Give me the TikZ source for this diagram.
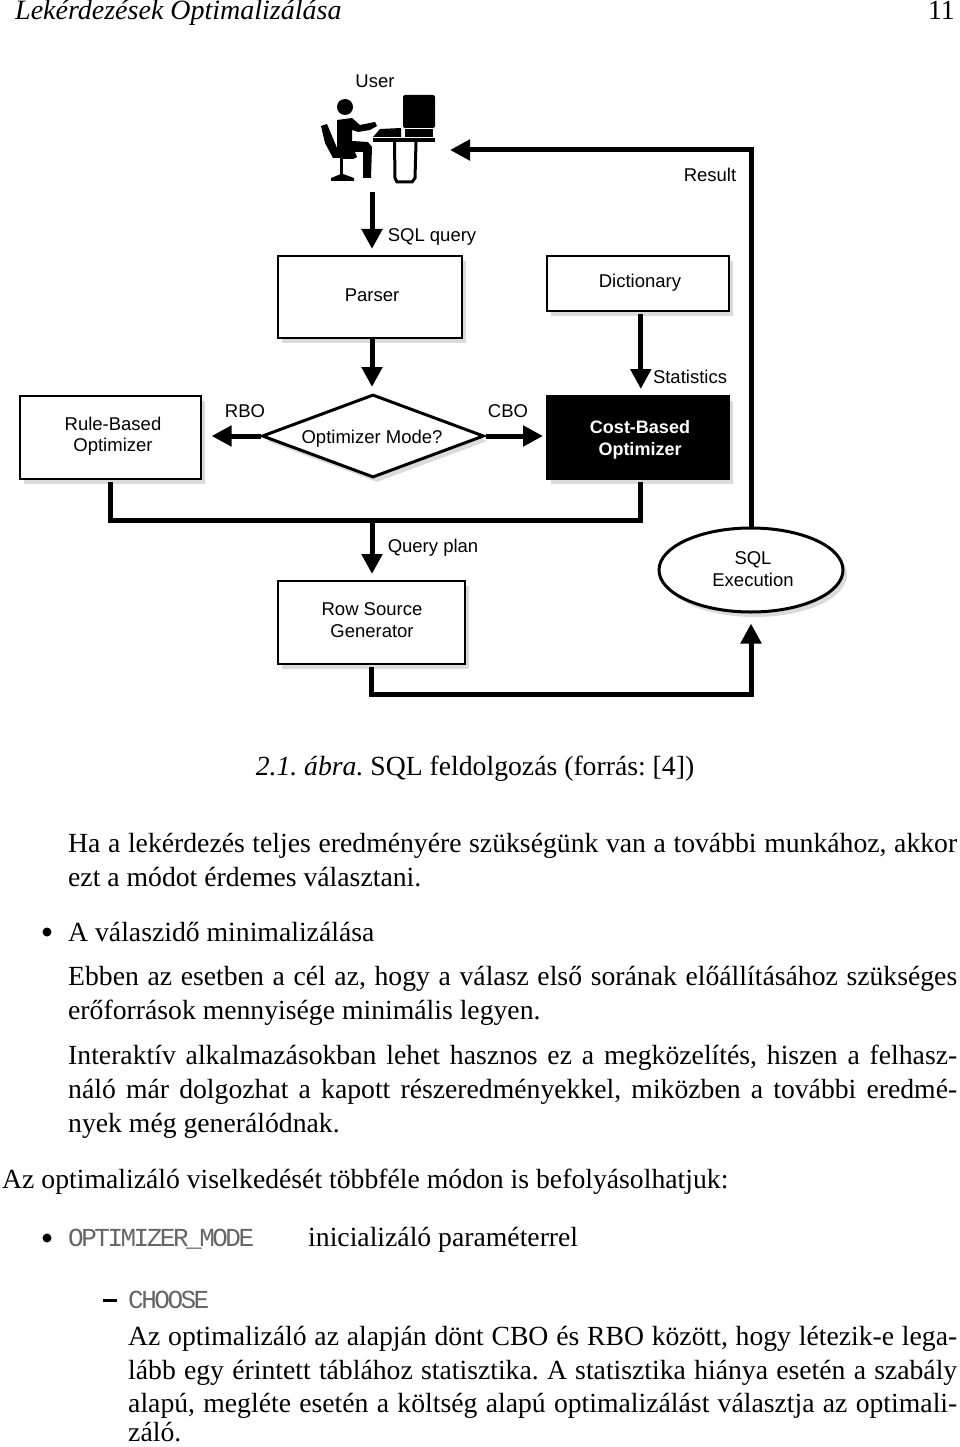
\documentclass[tikz,border=0pt]{standalone}
\usepackage{fontspec}
\setmainfont{Liberation Serif}
\setsansfont{Liberation Sans}
\setmonofont[LetterSpace=-9.6]{Liberation Mono}
\usepackage{tikz}
\usetikzlibrary{arrows.meta,shapes.geometric,shadows}

\tikzset{
    textline/.style={anchor=base west,inner sep=0pt,font=\fontsize{27.7}{34}\selectfont},
    ttline/.style={anchor=base west,inner sep=0pt,text=black!60,font=\fontsize{26}{30}\ttfamily},
    label/.style={inner sep=0pt,align=center,font=\fontsize{18.5}{21.5}\sffamily},
    shade/.style={drop shadow={shadow xshift=4pt,shadow yshift=-5pt,fill=black!14,opacity=1}},
    boxed/.style={draw,line width=1.6pt,fill=white,shade,inner sep=0pt,anchor=north west},
    pipe/.style={line width=5pt},
    flow/.style={pipe,-{Triangle[width=20pt,length=20pt]},shorten >=6pt}
}
\newcommand{\fullline}[2]{\makebox[#1][s]{#2}}

\begin{document}
\frenchspacing
\begin{tikzpicture}[x=1pt,y=-1pt]
        \useasboundingbox (0,0) rectangle (960,1447);
        \def\Chair{(321,126) -- (327,124) -- (337,148) -- (342,158) -- (333,158) -- (325,143) -- cycle}
        \def\Person{(337,120) -- (352,118) -- (360,125) -- (375,122) -- (377,126) -- (370,130) -- (358,132) -- (352,130) -- (352,141) -- (368,142) -- (372,147) -- (371,178) -- (363,178) -- (363,152) -- (355,152) -- (357,157) -- (353,159) -- (343,159) -- (337,150) -- cycle}
        \def\Keyboard{(373,137) -- (380,129) -- (401,128) -- (401,137) -- cycle}

        \node[textline,font=\fontsize{28}{34}\itshape] (pagetitle) at (15,20) {Lekérdezések Optimalizálása};
        \node[textline,anchor=base east] (pagenum) at (955,20) {11};

        \fill (345,107) circle (8);
        \fill \Person;
        \fill \Chair;
        \fill (340,158) rectangle (343,175);
        \fill (331,178) -- (341,174) -- (343,174) -- (354,178) -- (354,181) -- (331,181) -- cycle;
        \fill[rounded corners=2pt] (403,95) rectangle (435,128);
        \fill (405,129) rectangle (433,137);
        \fill \Keyboard;
        \fill (373,138) rectangle (435,142);
        \draw[line width=3pt] (394.5,142) -- (395,178) -- (397,182) -- (412,182) -- (415,178) -- (416,142);

        \node[label] (userlabel) at (375,81) {User};
        \node[label] (sqlquery) at (432,237) {SQL query};
        \node[label] (resultlabel) at (710,175) {Result};
        \node[label] (statistics) at (690,377) {Statistics};
        \node[label] (rbolabel) at (245,411) {RBO};
        \node[label] (cbolabel) at (508,411) {CBO};
        \node[label] (queryplan) at (433,548) {Query plan};

        \node[boxed,minimum width=184pt,minimum height=82pt] (parser) at (277,255) {};
        \node[label] at (372,295) (parsertext) {Parser};
        \node[boxed,minimum width=182pt,minimum height=55pt] (dictionary) at (546,255) {};
        \node[label] at (640,283) (dicttext) {Dictionary};
        \node[boxed,minimum width=181pt,minimum height=83pt] (rule) at (19,395) {};
        \node[label] at (113,436) (ruletext) {Rule-Based\\Optimizer};
        \node[boxed,fill=black,minimum width=182pt,minimum height=83pt] (cost) at (546,395) {};
        \node[label,text=white,font=\fontsize{18}{21.5}\sffamily\bfseries] at (640,440) (costtext) {Cost-Based\\Optimizer};
        \node[boxed,minimum width=187pt,minimum height=83pt] (rowsource) at (277,580) {};
        \node[label] at (372,620) (rowtext) {Row Source\\Generator};
        \node[diamond,draw,line width=3pt,fill=white,shade,aspect=2.68,inner sep=0pt,minimum width=222pt,minimum height=83pt] (mode) at (373,436) {};
        \node[label] at (372,439) (modetext) {Optimizer Mode?};
        \node[ellipse,draw,line width=3pt,fill=white,shade,inner sep=0pt,minimum width=184pt,minimum height=84pt] (sqlexec) at (751,570) {};
        \node[label] at (753,569) (exectext) {SQL\\Execution};

        \coordinate (user) at (372,192);
        \coordinate (join) at (372,520);
        \coordinate (corner) at (751,694);
        \coordinate (resultin) at (450,150);

        \draw[flow] (user) -- (user |- parser.north);
        \draw[flow] (user |- parser.south) -- (user |- mode.north);
        \draw[flow] ([xshift=3pt,yshift=-2pt]dictionary.south) -- ([xshift=3pt]cost.north);
        \draw[flow,shorten >=10pt] (mode.west) -- (mode.west -| rule.east);
        \draw[flow,shorten >=3pt] (mode.east) -- (mode.east -| cost.west);
        \draw[pipe,line join=miter] ([yshift=-2pt]rule.south) |- (join) -| ([xshift=3pt,yshift=-2pt]cost.south);
        \draw[flow] (join) -- (join |- rowsource.north);
        \draw[flow,shorten >=10pt] ([yshift=-2pt]rowsource.south) -- (rowsource.south |- corner) -- (corner) -- (sqlexec.south);
        \draw[flow,shorten >=0pt] (sqlexec.north) |- (resultin);

        \node[textline,anchor=base] (caption) at (475,775) {\textit{2.1. ábra.} SQL feldolgozás (forrás: [4])};
        \node[textline] (ha1) at (68,852) {\fullline{889pt}{Ha a lekérdezés teljes eredményére szükségünk van a további munkához, akkor}};
        \node[textline] (ha2) at (68,886) {ezt a módot érdemes választani.};
        \fill (47,932) circle (4.5);
        \node[textline] (item1) at (68,941) {A válaszidő minimalizálása};
        \node[textline] (eb1) at (68,985) {\fullline{889pt}{Ebben az esetben a cél az, hogy a válasz első sorának előállításához szükséges}};
        \node[textline] (eb2) at (68,1019) {erőforrások mennyisége minimális legyen.};
        \node[textline] (in1) at (68,1064) {\fullline{889pt}{Interaktív alkalmazásokban lehet hasznos ez a megközelítés, hiszen a felhasz-}};
        \node[textline] (in2) at (68,1098) {\fullline{889pt}{náló már dolgozhat a kapott részeredményekkel, miközben a további eredmé-}};
        \node[textline] (in3) at (68,1132) {nyek még generálódnak.};
        \node[textline] (az) at (2,1188) {Az optimalizáló viselkedését többféle módon is befolyásolhatjuk:};
        \fill (47,1238) circle (4.5);
        \node[ttline] (optmode) at (68,1246) {OPTIMIZER\_MODE};
        \node[textline] (init) at (308,1246) {inicializáló paraméterrel};
        \fill (103,1298.5) rectangle (117,1301.5);
        \node[ttline] (choose) at (128,1308) {CHOOSE};
        \node[textline] (ch1) at (128,1345) {\fullline{829pt}{Az optimalizáló az alapján dönt CBO és RBO között, hogy létezik-e lega-}};
        \node[textline] (ch2) at (128,1379) {\fullline{829pt}{lább egy érintett táblához statisztika. A statisztika hiánya esetén a szabály}};
        \node[textline] (ch3) at (128,1412) {\fullline{829pt}{alapú, megléte esetén a költség alapú optimalizálást választja az optimali-}};
        \node[textline] (ch4) at (128,1441) {záló.};
    \end{tikzpicture}
\end{document}
